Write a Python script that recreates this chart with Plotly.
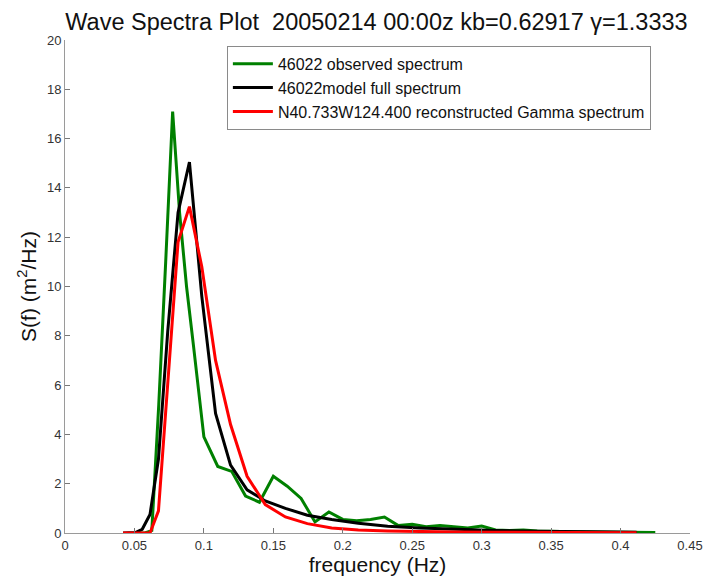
import plotly.graph_objects as go

# buoy 46022 observed spectrum (NDBC frequency bins)
obs_f = [0.0525, 0.0575, 0.0625, 0.0675, 0.0725, 0.0775, 0.0825, 0.0875, 0.0925, 0.1000,
         0.1100, 0.1200, 0.1300, 0.1400, 0.1500, 0.1600, 0.1700, 0.1800, 0.1900, 0.2000,
         0.2100, 0.2200, 0.2300, 0.2400, 0.2500, 0.2600, 0.2700, 0.2800, 0.2900, 0.3000,
         0.3100, 0.3200, 0.3300, 0.3400, 0.3500, 0.3650, 0.3850, 0.4050, 0.4250]
obs_s = [0.0, 0.0, 0.1, 5.2, 11.0, 17.1, 13.0, 10.0, 7.6, 3.9,
         2.7, 2.5, 1.5, 1.25, 2.3, 1.9, 1.4, 0.45, 0.85, 0.55,
         0.5, 0.55, 0.65, 0.3, 0.35, 0.25, 0.3, 0.25, 0.2, 0.28,
         0.12, 0.1, 0.12, 0.08, 0.06, 0.05, 0.04, 0.03, 0.02]

# model frequencies
mod_f = [0.0418, 0.0460, 0.0506, 0.0556, 0.0612, 0.0673, 0.0740, 0.0814, 0.0896, 0.0985,
         0.1084, 0.1192, 0.1311, 0.1442, 0.1587, 0.1745, 0.1920, 0.2112, 0.2323, 0.2555,
         0.2811, 0.3092, 0.3401, 0.3741, 0.4115]
full_s = [0.0, 0.0, 0.02, 0.15, 0.75, 3.0, 8.2, 13.0, 15.05, 9.6,
          4.85, 2.75, 1.75, 1.3, 1.0, 0.72, 0.55, 0.4, 0.27, 0.2,
          0.14, 0.1, 0.07, 0.05, 0.03]
gamma_s = [0.0, 0.0, 0.0, 0.0, 0.0, 0.9, 6.0, 11.8, 13.24, 10.8,
           7.0, 4.4, 2.3, 1.15, 0.65, 0.38, 0.2, 0.12, 0.08, 0.05,
           0.04, 0.03, 0.02, 0.015, 0.01]

fig = go.Figure()
fig.add_trace(go.Scatter(x=obs_f, y=obs_s, mode='lines', name='46022 observed spectrum',
                         line=dict(color='#008000', width=3)))
fig.add_trace(go.Scatter(x=mod_f, y=full_s, mode='lines', name='46022model full spectrum',
                         line=dict(color='#000000', width=3)))
fig.add_trace(go.Scatter(x=mod_f, y=gamma_s, mode='lines',
                         name='N40.733W124.400 reconstructed Gamma spectrum',
                         line=dict(color='#ff0000', width=3)))

axis_common = dict(showgrid=False, zeroline=False, showline=True, linecolor='#9a9a9a',
                   linewidth=1, ticks='inside', ticklen=5, tickcolor='#777777',
                   automargin=False, tickfont=dict(size=13, color='#333333'))

fig.update_layout(
    width=705, height=581,
    margin=dict(l=65, r=15, t=40, b=48),
    paper_bgcolor='white', plot_bgcolor='white',
    font=dict(family='Liberation Sans, Arial, sans-serif', color='#111111'),
    title=dict(text='Wave Spectra Plot  20050214 00:00z kb=0.62917 γ=1.3333',
               x=0.534, xanchor='center', yref='container', y=0.963, yanchor='middle',
               font=dict(size=23.5, color='#111111')),
    xaxis=dict(range=[0, 0.45], dtick=0.05, tick0=0,
               title=dict(text='frequency (Hz)', font=dict(size=21), standoff=2),
               **axis_common),
    yaxis=dict(range=[0, 20], dtick=2, tick0=0,
               title=dict(text='S(f) (m<sup>2</sup>/Hz)', font=dict(size=21), standoff=4),
               **axis_common),
    legend=dict(x=0.259, y=0.988, xanchor='left', yanchor='top',
                bgcolor='white', bordercolor='#8a8a8a', borderwidth=1,
                font=dict(size=16, color='#111111'), tracegroupgap=0,
                itemwidth=40),
    showlegend=True,
)

# drop the default page margin so the figure fills the window exactly
fig.write_html("out.html", config={'displayModeBar': False},
               post_script="document.body.style.margin='0';")
